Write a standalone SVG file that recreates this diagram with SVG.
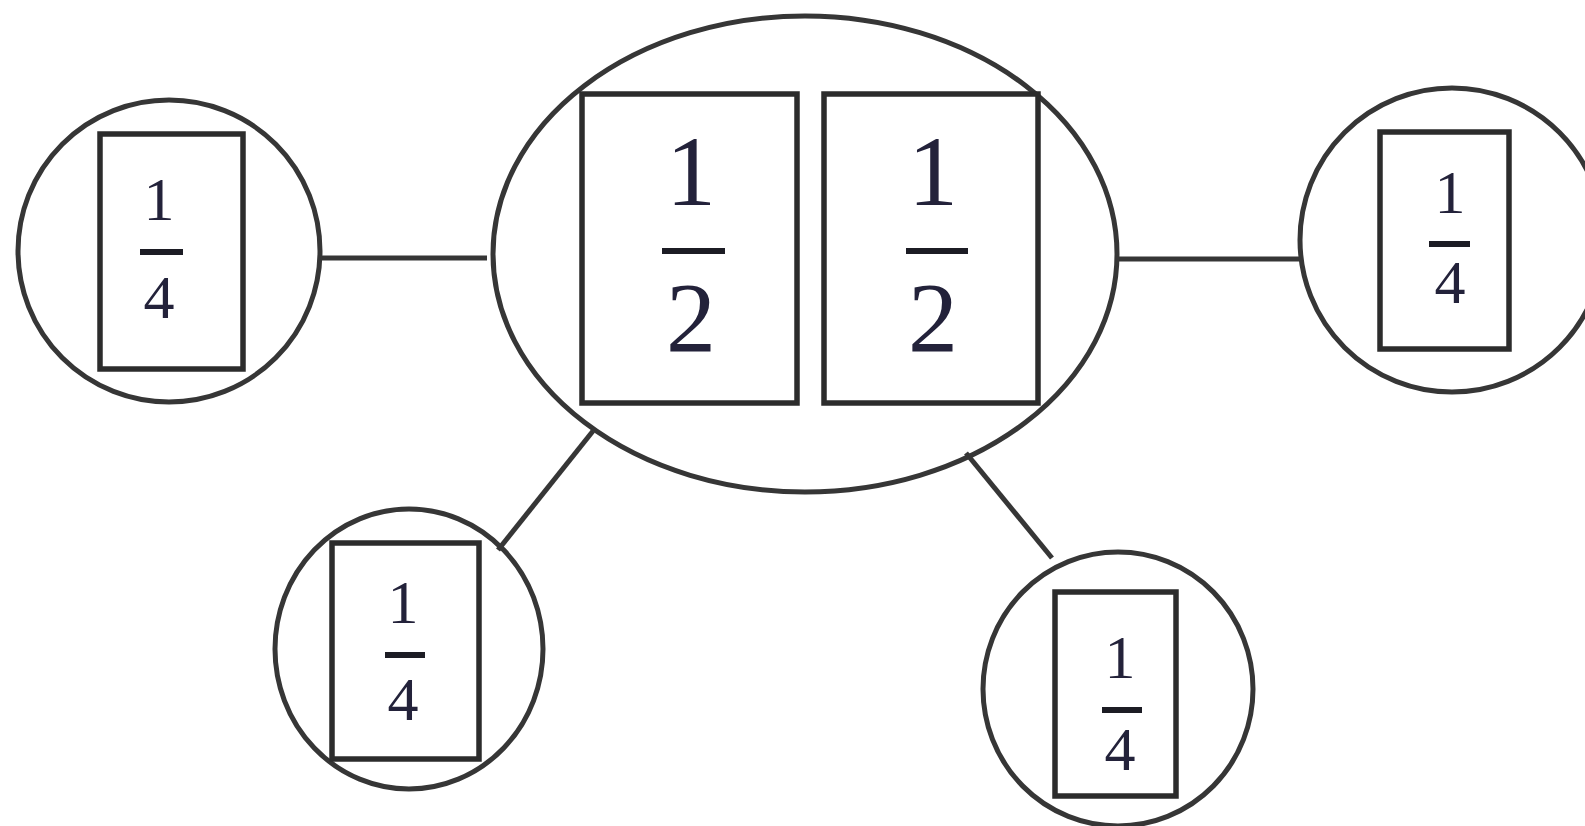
<svg xmlns="http://www.w3.org/2000/svg" width="1585" height="826" viewBox="0 0 1585 826">
  <style>
    .ring { fill: none; stroke: #363636; stroke-width: 5; }
    .box { fill: #fff; stroke: #2c2c2c; stroke-width: 5.5; }
    .edge { stroke: #363636; stroke-width: 5; fill: none; }
    .bar { stroke: #1c1c24; stroke-width: 6; }
    .num { font-family: "Liberation Serif", "Times New Roman", serif; fill: #23223a; text-anchor: middle; }
    .big { font-size: 100px; }
    .small { font-size: 62px; }
  </style>

  <!-- connectors -->
  <g id="connectors">
    <line class="edge" x1="318" y1="258" x2="487" y2="258"/>
    <line class="edge" x1="1117" y1="259" x2="1300" y2="259"/>
    <line class="edge" x1="593" y1="431" x2="498" y2="550"/>
    <line class="edge" x1="966" y1="453" x2="1052" y2="558"/>
  </g>

  <!-- whole: two halves -->
  <g id="node-whole">
    <ellipse class="ring" cx="805" cy="254" rx="312" ry="238"/>
    <rect class="box" x="582" y="94" width="215" height="309"/>
    <text class="num big" x="691" y="205">1</text>
    <line class="bar" x1="662" y1="251" x2="725" y2="251"/>
    <text class="num big" x="691" y="351">2</text>
    <rect class="box" x="824" y="94" width="214" height="309"/>
    <text class="num big" x="933" y="205">1</text>
    <line class="bar" x1="906" y1="251" x2="968" y2="251"/>
    <text class="num big" x="933" y="351">2</text>
  </g>

  <!-- quarter, left -->
  <g id="node-quarter-left">
    <circle class="ring" cx="169" cy="251" r="151"/>
    <rect class="box" x="100" y="134" width="143" height="235"/>
    <text class="num small" x="159" y="220">1</text>
    <line class="bar" x1="140" y1="252" x2="183" y2="252"/>
    <text class="num small" x="159" y="318">4</text>
  </g>

  <!-- quarter, right -->
  <g id="node-quarter-right">
    <circle class="ring" cx="1452" cy="240" r="152"/>
    <rect class="box" x="1380" y="132" width="129" height="217"/>
    <text class="num small" x="1450" y="213">1</text>
    <line class="bar" x1="1429" y1="244" x2="1470" y2="244"/>
    <text class="num small" x="1450" y="303">4</text>
  </g>

  <!-- quarter, lower left -->
  <g id="node-quarter-lower-left">
    <ellipse class="ring" cx="409" cy="649" rx="134" ry="140"/>
    <rect class="box" x="332" y="543" width="147" height="216"/>
    <text class="num small" x="403" y="623">1</text>
    <line class="bar" x1="385" y1="655" x2="425" y2="655"/>
    <text class="num small" x="403" y="720">4</text>
  </g>

  <!-- quarter, lower right -->
  <g id="node-quarter-lower-right">
    <ellipse class="ring" cx="1118" cy="689" rx="135" ry="137"/>
    <rect class="box" x="1055" y="592" width="121" height="204"/>
    <text class="num small" x="1120" y="678">1</text>
    <line class="bar" x1="1102" y1="710" x2="1142" y2="710"/>
    <text class="num small" x="1120" y="770">4</text>
  </g>
</svg>
